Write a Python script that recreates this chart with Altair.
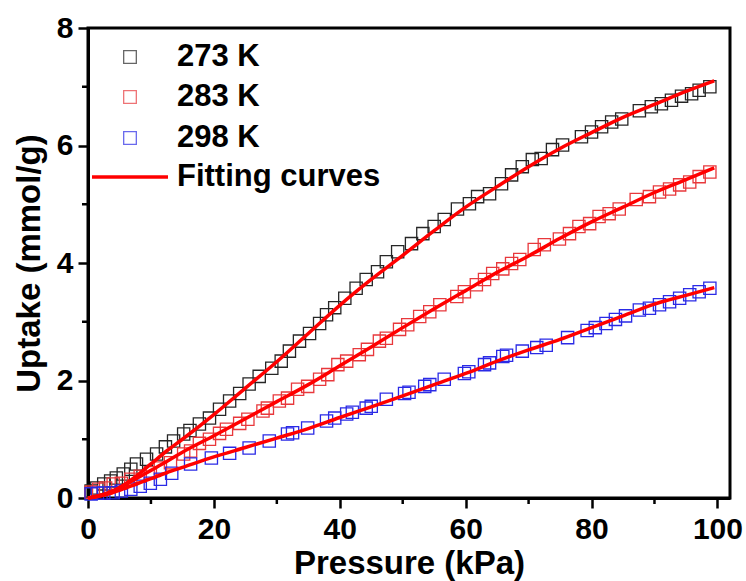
import altair as alt
import pandas as pd

# ---------------- data ----------------
P_273 = [0.5, 1.4, 2.5, 3.6, 4.5, 5.6, 6.8, 7.7, 9.3, 10.9, 12.3, 13.6, 15.2, 16.2, 17.7, 19.3,
         20.9, 22.5, 24.1, 25.6, 27.2, 29.2, 30.7, 32.0, 33.6, 35.2, 36.8, 37.9, 39.2, 40.8, 42.6,
         44.2, 46.0, 47.4, 49.2, 51.4, 53.2, 55.0, 56.6, 58.7, 60.6, 61.9, 63.8, 65.7, 67.3, 69.0,
         70.6, 72.0, 73.8, 75.4, 78.4, 80.0, 81.6, 83.2, 84.8, 87.6, 89.5, 91.1, 92.7, 94.3, 95.9,
         97.1, 98.8]
U_273 = [0.12, 0.17, 0.24, 0.29, 0.34, 0.41, 0.49, 0.58, 0.66, 0.75, 0.87, 0.97, 1.09, 1.15, 1.26, 1.36,
         1.51, 1.65, 1.78, 1.94, 2.07, 2.21, 2.33, 2.50, 2.67, 2.80, 2.97, 3.12, 3.24, 3.40, 3.57,
         3.72, 3.85, 4.02, 4.19, 4.33, 4.50, 4.62, 4.74, 4.92, 5.01, 5.13, 5.18, 5.35, 5.50, 5.64,
         5.76, 5.78, 5.93, 6.01, 6.15, 6.23, 6.32, 6.40, 6.45, 6.59, 6.66, 6.71, 6.77, 6.84, 6.88,
         6.94, 7.00]

P_283 = [0.5, 1.7, 2.8, 4.0, 5.3, 6.8, 8.3, 9.9, 11.5, 13.1, 15.2, 16.3, 17.7, 19.3, 20.9, 22.0,
         24.1, 25.4, 27.8, 28.5, 30.4, 31.7, 33.3, 34.9, 36.8, 38.1, 39.7, 41.1, 43.1, 44.4, 46.3,
         47.4, 49.5, 50.8, 52.7, 54.3, 55.9, 58.6, 59.8, 61.7, 63.0, 64.3, 65.9, 67.3, 68.6, 70.9,
         72.5, 74.9, 76.5, 78.0, 79.7, 81.2, 82.8, 84.4, 87.1, 89.2, 90.8, 92.4, 94.0, 95.6, 97.1,
         98.8]
U_283 = [0.10, 0.15, 0.17, 0.24, 0.25, 0.32, 0.37, 0.43, 0.51, 0.60, 0.75, 0.80, 0.93, 1.00, 1.10, 1.17,
         1.27, 1.34, 1.48, 1.53, 1.65, 1.70, 1.85, 1.90, 2.02, 2.10, 2.27, 2.33, 2.44, 2.53, 2.67,
         2.72, 2.87, 2.95, 3.09, 3.17, 3.29, 3.43, 3.51, 3.63, 3.72, 3.82, 3.90, 3.99, 4.06, 4.23,
         4.31, 4.41, 4.50, 4.62, 4.67, 4.79, 4.84, 4.92, 5.08, 5.13, 5.21, 5.26, 5.33, 5.38, 5.47,
         5.55]

P_298 = [0.5, 1.5, 2.5, 4.0, 5.3, 6.8, 8.3, 9.9, 11.5, 13.3, 16.3, 19.6, 22.5, 25.6, 28.8, 31.7,
         32.5, 34.9, 37.9, 39.2, 41.1, 42.0, 44.2, 45.0, 47.4, 50.3, 51.0, 53.5, 54.3, 56.6, 59.8,
         60.5, 63.0, 63.8, 65.9, 66.5, 69.0, 71.3, 72.8, 76.2, 79.3, 80.6, 82.3, 83.8, 85.4, 87.6,
         89.2, 90.8, 92.4, 94.0, 95.6, 97.1, 98.8]
U_298 = [0.07, 0.08, 0.085, 0.09, 0.12, 0.15, 0.20, 0.25, 0.32, 0.42, 0.58, 0.68, 0.76, 0.85, 0.97, 1.09,
         1.11, 1.19, 1.31, 1.36, 1.43, 1.46, 1.53, 1.56, 1.68, 1.78, 1.80, 1.90, 1.93, 2.02, 2.12,
         2.15, 2.27, 2.30, 2.41, 2.43, 2.50, 2.56, 2.60, 2.73, 2.85, 2.90, 2.97, 3.04, 3.10, 3.20,
         3.23, 3.29, 3.34, 3.40, 3.46, 3.51, 3.57]

# fitting curves
FIT_P = [0, 3, 5, 7.5, 10, 12.5, 15, 20, 25, 30, 35, 40, 45, 50, 55, 60, 65, 70, 75, 80, 85, 90, 95, 99.5]
FIT_273 = [0, 0.08, 0.18, 0.36, 0.58, 0.80, 1.00, 1.42, 1.87, 2.32, 2.80, 3.28, 3.72, 4.13, 4.55,
           4.95, 5.30, 5.64, 5.95, 6.22, 6.48, 6.70, 6.92, 7.10]
FIT_283 = [0, 0.08, 0.17, 0.32, 0.47, 0.62, 0.78, 1.06, 1.35, 1.64, 1.93, 2.25, 2.57, 2.90, 3.22,
           3.53, 3.84, 4.12, 4.42, 4.70, 4.95, 5.20, 5.42, 5.62]
FIT_298 = [0, 0.06, 0.13, 0.23, 0.33, 0.43, 0.52, 0.70, 0.86, 1.02, 1.18, 1.37, 1.55, 1.74, 1.93,
           2.12, 2.33, 2.52, 2.70, 2.90, 3.10, 3.30, 3.45, 3.58]

SERIES = ["273 K", "283 K", "298 K"]
COLORS = ["#262626", "#e8383c", "#2a2ae6"]
FIT_LABEL = "Fitting curves"

X_MAJOR = [0, 20, 40, 60, 80, 100]
X_MINOR = [10, 30, 50, 70, 90]
Y_MAJOR = [0, 2, 4, 6, 8]
Y_MINOR = [1, 3, 5, 7]

# ---------------- tables ----------------
pts = pd.concat([
    pd.DataFrame({"P": P_273, "U": U_273, "T": SERIES[0]}),
    pd.DataFrame({"P": P_283, "U": U_283, "T": SERIES[1]}),
    pd.DataFrame({"P": P_298, "U": U_298, "T": SERIES[2]}),
], ignore_index=True)
fits = pd.concat([
    pd.DataFrame({"P": FIT_P, "U": FIT_273, "T": SERIES[0]}),
    pd.DataFrame({"P": FIT_P, "U": FIT_283, "T": SERIES[1]}),
    pd.DataFrame({"P": FIT_P, "U": FIT_298, "T": SERIES[2]}),
], ignore_index=True)

FONT = "Liberation Sans"
W, H = 642, 470

xscale = alt.Scale(domain=[0, 102], nice=False, zero=False)
yscale = alt.Scale(domain=[0, 8], nice=False)

xaxis = alt.Axis(values=X_MAJOR, title="Pressure (kPa)", labelFlush=False, labelOverlap=False,
                 labelPadding=6, titlePadding=3, format="d")
yaxis = alt.Axis(values=Y_MAJOR, title="Uptake (mmol/g)", labelFlush=False, labelOverlap=False,
                 labelPadding=5, titlePadding=10, format="d")

X = alt.X("P:Q", scale=xscale, axis=xaxis)
Y = alt.Y("U:Q", scale=yscale, axis=yaxis)

points = alt.Chart(pts).mark_point(shape="square", filled=False, size=150, strokeWidth=1.3, opacity=1).encode(
    x=X, y=Y,
    color=alt.Color("T:N", scale=alt.Scale(domain=SERIES, range=COLORS), legend=None),
)

lines = alt.Chart(fits).mark_line(color="#ff0000", strokeWidth=3.5, interpolate="monotone").encode(
    x=X, y=Y, detail="T:N",
)

xminor = alt.Chart(pd.DataFrame({"P": X_MINOR})).mark_rule(color="black", strokeWidth=2.5).encode(
    x=X, y=alt.value(H), y2=alt.value(H + 6),
)
yminor = alt.Chart(pd.DataFrame({"U": Y_MINOR})).mark_rule(color="black", strokeWidth=2.5).encode(
    y=Y, x=alt.value(0), x2=alt.value(-6),
)

# ---------------- legend (drawn inside the plot) ----------------
legend_layers = []
rows_y = [29, 69, 110]
for name, col, ry in zip(SERIES, COLORS, rows_y):
    d = pd.DataFrame({"t": [name]})
    legend_layers.append(
        alt.Chart(d).mark_point(shape="square", filled=False, size=160, strokeWidth=1.3, color=col)
        .encode(x=alt.value(42), y=alt.value(ry))
    )
    legend_layers.append(
        alt.Chart(d).mark_text(align="left", baseline="middle", font=FONT, fontSize=31,
                               fontWeight="bold", color="black")
        .encode(x=alt.value(89), y=alt.value(ry), text="t:N")
    )
dfit = pd.DataFrame({"t": [FIT_LABEL]})
legend_layers.append(
    alt.Chart(dfit).mark_rule(color="#ff0000", strokeWidth=3.5)
    .encode(x=alt.value(4), x2=alt.value(80), y=alt.value(149))
)
legend_layers.append(
    alt.Chart(dfit).mark_text(align="left", baseline="middle", font=FONT, fontSize=31,
                              fontWeight="bold", color="black")
    .encode(x=alt.value(89), y=alt.value(149), text="t:N")
)

chart = alt.layer(points, lines, xminor, yminor, *legend_layers).properties(
    width=W, height=H,
    autosize=alt.AutoSizeParams(type="none"),
    padding={"left": 88, "top": 28, "right": 16, "bottom": 83},
    background="white",
).configure_view(
    stroke="black", strokeWidth=3
).configure_axis(
    domainColor="black", domainWidth=3,
    tickColor="black", tickWidth=2.5, tickSize=10,
    grid=False,
    labelFont=FONT, labelFontSize=30, labelFontWeight="bold", labelColor="black",
    titleFont=FONT, titleFontSize=33, titleFontWeight="bold", titleColor="black",
)

chart.save("out.html", embed_options={"renderer": "svg", "actions": False})
